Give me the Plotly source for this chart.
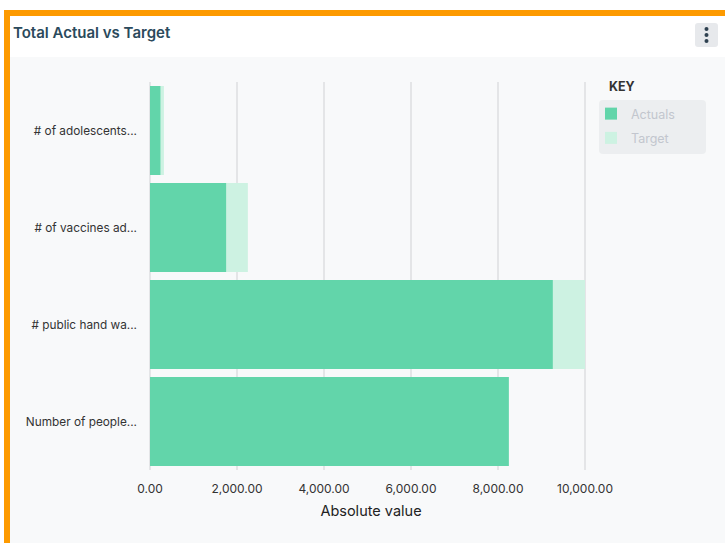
import plotly.graph_objects as go

# Indicator names (top to bottom) and their values
categories = [
    "# of adolescents...",
    "# of vaccines ad...",
    "# public hand wa...",
    "Number of people...",
]
actuals = [240, 1750, 9260, 8250]
targets = [320, 2250, 10000, 8000]
x_ticks = [0, 2000, 4000, 6000, 8000, 10000]

W, H = 725, 543
ML, MR, MT, MB = 150, 133, 82, 73
PW, PH = W - ML - MR, H - MT - MB


def px(x):
    return (x - ML) / PW


def py(y):
    return (H - MB - y) / PH


def rounded_rect(x0, y0, x1, y1, r):
    pts = [
        f"M{px(x0 + r)},{py(y0)}",
        f"L{px(x1 - r)},{py(y0)}",
        f"Q{px(x1)},{py(y0)} {px(x1)},{py(y0 + r)}",
        f"L{px(x1)},{py(y1 - r)}",
        f"Q{px(x1)},{py(y1)} {px(x1 - r)},{py(y1)}",
        f"L{px(x0 + r)},{py(y1)}",
        f"Q{px(x0)},{py(y1)} {px(x0)},{py(y1 - r)}",
        f"L{px(x0)},{py(y0 + r)}",
        f"Q{px(x0)},{py(y0)} {px(x0 + r)},{py(y0)}",
        "Z",
    ]
    return " ".join(pts)


FONT = "Inter, Roboto, sans-serif"
ACT = "#62d5aa"
TGT = "#cdf2e2"

fig = go.Figure()
fig.add_trace(go.Bar(
    y=categories, x=targets, orientation="h", name="Target",
    legendgroup="target", legendrank=2,
    marker=dict(color=TGT, line=dict(width=0)),
))
fig.add_trace(go.Bar(
    y=categories, x=actuals, orientation="h", name="Actuals",
    legendgroup="actuals", legendrank=1,
    marker=dict(color=ACT, line=dict(width=0)),
))

shapes = [
    # card body
    dict(type="rect", xref="paper", yref="paper", x0=px(10), x1=px(W), y0=py(57), y1=py(H),
         fillcolor="#f8f9fa", line=dict(width=0), layer="below"),
    # accent borders
    dict(type="rect", xref="paper", yref="paper", x0=px(4), x1=px(W), y0=py(10), y1=py(16),
         fillcolor="#fd9a00", line=dict(width=0), layer="above"),
    dict(type="rect", xref="paper", yref="paper", x0=px(4), x1=px(10), y0=py(10), y1=py(H),
         fillcolor="#fd9a00", line=dict(width=0), layer="above"),
    # legend panel
    dict(type="path", xref="paper", yref="paper", path=rounded_rect(599, 100, 706, 154, 4),
         fillcolor="#eceef0", line=dict(width=0), layer="above"),
    # menu button
    dict(type="path", xref="paper", yref="paper", path=rounded_rect(695, 23, 718, 47, 3),
         fillcolor="#e7e9ec", line=dict(width=0), layer="above"),
]
for dy in (29, 35, 41):
    shapes.append(dict(type="circle", xref="paper", yref="paper",
                       x0=px(704.5), x1=px(708.5), y0=py(dy - 2), y1=py(dy + 2),
                       fillcolor="#2e4150", line=dict(width=0), layer="above"))

annotations = [
    dict(text="Total Actual vs Target", xref="paper", yref="paper", x=px(11), y=py(32),
         xanchor="left", yanchor="middle", showarrow=False,
         font=dict(family=FONT, size=15, color="#2b4a5c", weight=600)),
    dict(text="KEY", xref="paper", yref="paper", x=px(607), y=py(87),
         xanchor="left", yanchor="middle", showarrow=False,
         font=dict(family=FONT, size=12.5, color="#333333", weight=700)),
]

fig.update_layout(
    width=W, height=H,
    margin=dict(l=ML, r=MR, t=MT, b=MB),
    paper_bgcolor="white", plot_bgcolor="#f8f9fa",
    barmode="overlay", bargap=0.08,
    shapes=shapes, annotations=annotations,
    showlegend=True,
    legend=dict(
        x=px(591), y=py(99), xanchor="left", yanchor="top",
        bgcolor="rgba(0,0,0,0)", borderwidth=0, traceorder="grouped",
        tracegroupgap=5,
        font=dict(family=FONT, size=12.5, color="#c2c6ce"),
    ),
    font=dict(family=FONT, color="#333333"),
)
fig.update_xaxes(
    range=[0, 10000 * PW / 435], tickvals=x_ticks, tickformat=",.2f",
    showgrid=True, gridcolor="#e4e5e7", gridwidth=1.5,
    zeroline=True, zerolinecolor="#e4e5e7", zerolinewidth=1.5,
    showline=False, ticks="", ticklabelstandoff=10,
    tickfont=dict(family=FONT, size=12, color="#333333"),
    title=dict(text="Absolute value", standoff=10,
               font=dict(family=FONT, size=14.5, color="#222222")),
    fixedrange=True,
)
fig.update_yaxes(
    range=[3.5, -0.5], showgrid=False, zeroline=False, showline=False,
    ticks="", ticklabelstandoff=12,
    tickfont=dict(family=FONT, size=11.8, color="#333333"),
    fixedrange=True,
)

fig.write_html("out.html", config={"displayModeBar": False})
